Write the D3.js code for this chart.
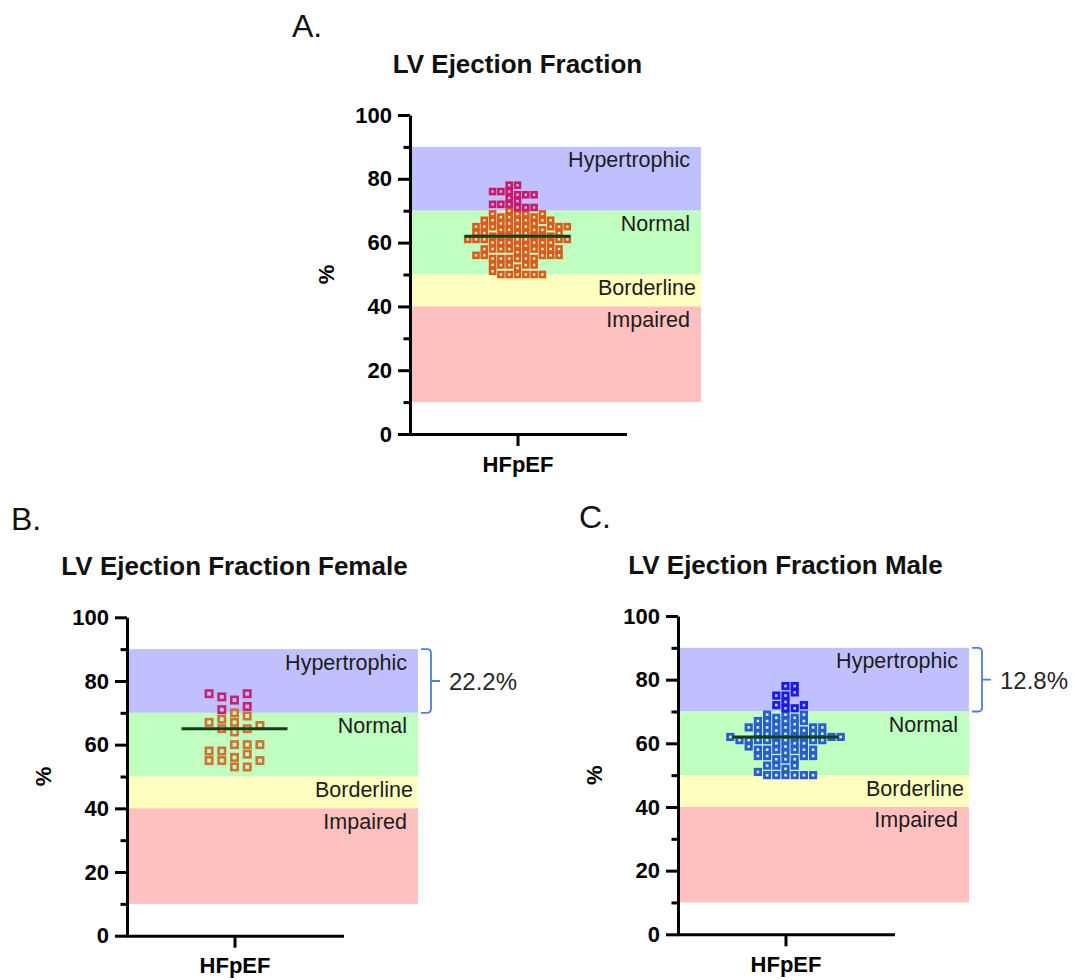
<!DOCTYPE html>
<html><head><meta charset="utf-8">
<script src="https://cdn.jsdelivr.net/npm/d3@7"></script>
<style>
body{margin:0;background:#fff;}
svg{display:block;font-family:"Liberation Sans",Arial,sans-serif;}
</style>
</head><body>
<svg id="chart" width="1075" height="980"></svg>
<script>
// ---------- data ----------
const femaleEF = [76, 76, 75, 74, 72, 71,
  70, 69, 68, 67, 67, 66, 65, 65, 64, 60, 60, 60, 58, 58, 57, 56, 55, 55, 55, 53, 53];
const maleEF = [78, 78, 76, 75, 75, 73, 72, 72, 71, 71,
  69, 69, 68, 69, 68,
  67, 67, 66, 67, 66, 67,
  65, 65, 64, 65, 65, 64, 65, 64, 65,
  63, 63, 62, 63, 63, 62, 63, 62,
  61, 61, 60, 61, 60, 61, 62, 62, 61, 61, 60, 61, 62,
  58, 58, 59, 58, 57, 58, 59, 58, 58,
  56, 55, 56, 56, 55, 56, 55,
  53, 52, 53, 53,
  50, 50, 51, 50, 50, 50, 50];
const allEF = femaleEF.concat(maleEF);

const bandNames = ["Hypertrophic", "Normal", "Borderline", "Impaired"];
const bandLow = [70, 50, 40, 10];
const bandHigh = [90, 70, 50, 40];
const bandColors = ["#c0c0ff", "#c0ffc0", "#ffffc0", "#ffc0c0"];

const yTicks = [0, 20, 40, 60, 80, 100];
const yMinorTicks = [10, 30, 50, 70, 90];
const category = ["HFpEF"];
const yAxisLabel = "%";
const panelLetters = ["A.", "B.", "C."];
const panelTitles = ["LV Ejection Fraction", "LV Ejection Fraction Female", "LV Ejection Fraction Male"];
const hyperPercentLabels = [null, "22.2%", "12.8%"];
const hyperThreshold = 70;
const bracketRange = [70, 90];

// ---------- layout ----------
const panels = [
  {data: allEF, axisX: 410, yTop: 115, yBottom: 434, letterX: 292, letterY: 37,
   colors: ["#dc5a1e", "#cc1a6a"], w: 5, s: 2.6, pitch: 8.3, dyMin: 6.0},
  {data: femaleEF, axisX: 127, yTop: 617.3, yBottom: 935.7, letterX: 11, letterY: 530,
   colors: ["#cd7533", "#c42474"], w: 6.4, s: 2.6, pitch: 12.7, dyMin: 9},
  {data: maleEF, axisX: 678, yTop: 616, yBottom: 934.3, letterX: 579, letterY: 528,
   colors: ["#2b5ccf", "#1b1be6"], w: 5.4, s: 2.8, pitch: 9.2, dyMin: 6.0}
];
const bandWidth = 291, xAxisLen = 215;

const svg = d3.select("#chart");

function swarm(values, y, pitch, dyMin) {
  const sorted = values.slice().sort((a, b) => a - b);
  const placed = [];
  sorted.forEach(v => {
    const py = y(v);
    for (let step = 0; step < 200; step++) {
      const cands = step === 0 ? [0] : (placed.length % 2 ? [step, -step] : [-step, step]);
      let found = null;
      for (const c of cands) {
        const dx = c * pitch / 2;
        const hit = placed.some(p => Math.abs(p.dx - dx) < pitch - 0.01 && Math.abs(p.y - py) < dyMin);
        if (!hit) { found = dx; break; }
      }
      if (found !== null) { placed.push({v, y: py, dx: found}); break; }
    }
  });
  return placed;
}

panels.forEach((P, pi) => {
  const g = svg.append("g");
  const y = d3.scaleLinear().domain([0, 100]).range([P.yBottom, P.yTop]);
  const x = d3.scalePoint().domain(category).range([P.axisX, P.axisX + xAxisLen]).padding(0.5);
  const bandEnd = P.axisX + bandWidth;
  const cx = x(category[0]);

  // bands
  g.selectAll("rect.band").data(bandNames).join("rect")
    .attr("x", P.axisX).attr("width", bandWidth)
    .attr("y", (d, i) => y(bandHigh[i]))
    .attr("height", (d, i) => y(bandLow[i]) - y(bandHigh[i]))
    .attr("fill", (d, i) => bandColors[i]);

  // band labels
  g.selectAll("text.bl").data(bandNames).join("text")
    .attr("x", (d, i) => bandEnd - (d === "Borderline" ? 5 : 11))
    .attr("y", (d, i) => y(bandHigh[i]) + 20.5)
    .attr("text-anchor", "end")
    .attr("font-size", 21.5).attr("fill", "#1c1c1c")
    .text(d => d);

  // points
  const pts = swarm(P.data, y, P.pitch, P.dyMin);
  g.selectAll("rect.pt").data(pts).join("rect")
    .attr("x", d => cx + d.dx - P.w / 2)
    .attr("y", d => d.y - P.w / 2)
    .attr("width", P.w).attr("height", P.w)
    .attr("fill", "none")
    .attr("stroke", d => d.v > hyperThreshold ? P.colors[1] : P.colors[0])
    .attr("stroke-width", P.s);

  // median line
  const med = d3.median(P.data);
  g.append("line")
    .attr("x1", cx - 53).attr("x2", cx + 53)
    .attr("y1", y(med)).attr("y2", y(med))
    .attr("stroke", "#173d17").attr("stroke-width", 3);

  // axes
  const yAxis = g.append("g").attr("transform", `translate(${P.axisX},0)`)
    .call(d3.axisLeft(y).tickValues(yTicks).tickSize(12).tickPadding(6).tickSizeOuter(0));
  const yMinor = g.append("g").attr("transform", `translate(${P.axisX},0)`)
    .call(d3.axisLeft(y).tickValues(yMinorTicks).tickSize(6.5).tickFormat("").tickSizeOuter(0));
  yMinor.select(".domain").remove();
  const xAxis = g.append("g").attr("transform", `translate(0,${P.yBottom})`)
    .call(d3.axisBottom(x).tickSize(12).tickPadding(10).tickSizeOuter(0));
  [yAxis, yMinor, xAxis].forEach(a => {
    a.selectAll("path,line").attr("stroke", "#000").attr("stroke-width", 3);
    a.selectAll("text").attr("font-size", 22).attr("font-weight", "bold")
      .attr("font-family", '"Liberation Sans",Arial,sans-serif').attr("fill", "#000");
  });
  xAxis.select(".domain").attr("stroke-linecap", "square");

  // y axis label
  g.append("text")
    .attr("transform", `translate(${P.axisX - 84},${y(50)}) rotate(-90)`)
    .attr("dy", "0.35em").attr("text-anchor", "middle")
    .attr("font-size", 22).attr("font-weight", "bold")
    .text(yAxisLabel);

  // title
  g.append("text")
    .attr("x", cx).attr("y", P.yTop - 42)
    .attr("text-anchor", "middle")
    .attr("font-size", 26).attr("font-weight", "bold").attr("fill", "#111")
    .text(panelTitles[pi]);

  // panel letter
  g.append("text")
    .attr("x", P.letterX).attr("y", P.letterY)
    .attr("font-size", 32).attr("fill", "#111")
    .text(panelLetters[pi]);

  // bracket + percentage
  if (hyperPercentLabels[pi]) {
    const bx = bandEnd + 3;
    const yT = y(bracketRange[1]), yB = y(bracketRange[0]), yM = (yT + yB) / 2;
    const r = 4;
    const path = `M${bx},${yT} H${bx + 10 - r} Q${bx + 10},${yT} ${bx + 10},${yT + r} V${yB - r} Q${bx + 10},${yB} ${bx + 10 - r},${yB} H${bx}` +
      ` M${bx + 10},${yM} H${bx + 19}`;
    g.append("path").attr("d", path).attr("fill", "none")
      .attr("stroke", "#4f7fd0").attr("stroke-width", 1.8);
    g.append("text")
      .attr("x", bandEnd + 31).attr("y", yM + 9)
      .attr("font-size", 24).attr("fill", "#262626")
      .text(hyperPercentLabels[pi]);
  }
});
</script>
</body></html>
